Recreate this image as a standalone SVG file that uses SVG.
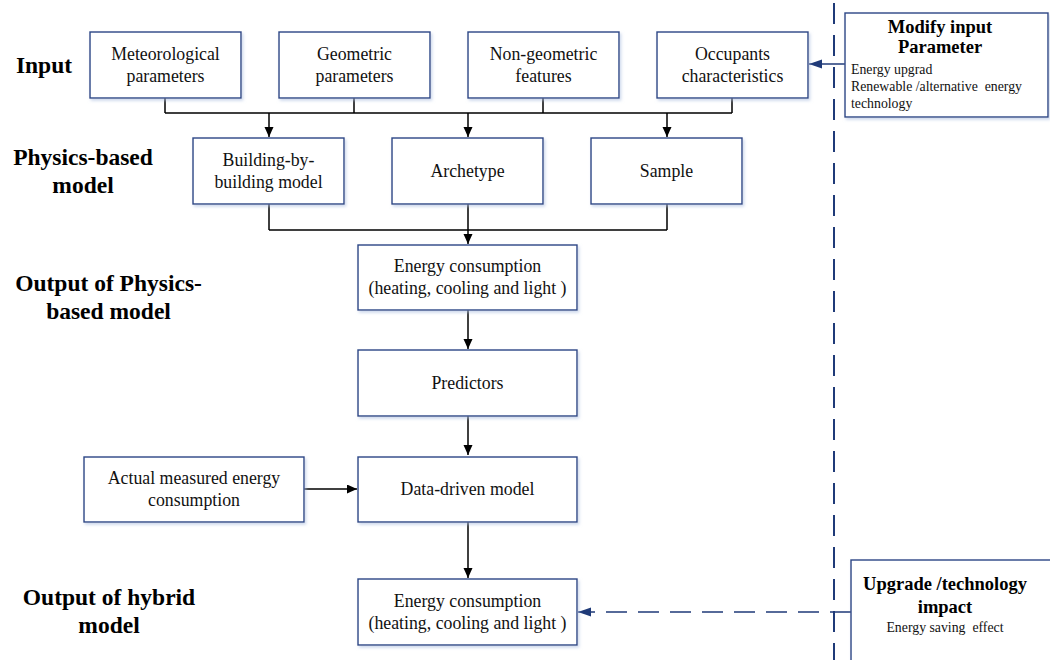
<svg xmlns="http://www.w3.org/2000/svg" width="1050" height="660" viewBox="0 0 1050 660">
<style>
.box{fill:#fff;stroke:#2a4585;stroke-width:1.4;filter:url(#sh)}
.t{font-family:"Liberation Serif","Times New Roman",serif;font-size:17.8px;fill:#111;text-anchor:middle}
.lab{font-family:"Liberation Serif","Times New Roman",serif;font-size:23.5px;font-weight:bold;fill:#000;text-anchor:middle}
.hb{font-family:"Liberation Serif","Times New Roman",serif;font-size:18.5px;font-weight:bold;fill:#000;text-anchor:middle}
.sm{font-family:"Liberation Serif","Times New Roman",serif;font-size:13.8px;fill:#111}
.ln{fill:none;stroke:#000;stroke-width:1.5}
.bl{fill:none;stroke:#1f3a78;stroke-width:1.6}
</style>
<defs>
<filter id="sh" x="-10%" y="-10%" width="120%" height="130%">
<feDropShadow dx="1.5" dy="2" stdDeviation="1.5" flood-color="#a9bde0" flood-opacity="0.6"/>
</filter>
<marker id="ab" markerWidth="11" markerHeight="10" refX="10" refY="4.5" orient="auto" markerUnits="userSpaceOnUse">
<path d="M0,0 L10,4.5 L0,9 Z" fill="#000"/>
</marker>
<marker id="an" markerWidth="14" markerHeight="10" refX="13" refY="4.5" orient="auto" markerUnits="userSpaceOnUse">
<path d="M0,0 L13,4.5 L0,9 Z" fill="#1f3a78"/>
</marker>
</defs>

<g id="labels">
<text class="lab" x="44" y="73">Input</text>
<text class="lab" x="83" y="165">Physics-based</text>
<text class="lab" x="83" y="193">model</text>
<text class="lab" x="108.5" y="291">Output of Physics-</text>
<text class="lab" x="108.5" y="319">based model</text>
<text class="lab" x="109" y="605">Output of hybrid</text>
<text class="lab" x="109" y="633">model</text>
</g>

<g id="divider">
<line x1="834" y1="3" x2="834" y2="660" stroke="#1f3a78" stroke-width="2" stroke-dasharray="21 11"/>
</g>

<g id="connectors">
<path class="ln" d="M165,98 V113 M354,98 V113 M543,98 V113 M732,98 V113 M165,113 H732"/>
<path class="ln" d="M269,113 V137" marker-end="url(#ab)"/>
<path class="ln" d="M468,113 V137" marker-end="url(#ab)"/>
<path class="ln" d="M667,113 V137" marker-end="url(#ab)"/>
<path class="ln" d="M269,204 V230 M468,204 V230 M667,204 V230 M269,230 H667"/>
<path class="ln" d="M468,230 V244" marker-end="url(#ab)"/>
<path class="ln" d="M468,310 V349" marker-end="url(#ab)"/>
<path class="ln" d="M468,416 V455" marker-end="url(#ab)"/>
<path class="ln" d="M304,489 H357" marker-end="url(#ab)"/>
<path class="ln" d="M468,522 V578" marker-end="url(#ab)"/>
<path class="bl" d="M845,64 H809" marker-end="url(#an)"/>
<path class="bl" d="M851,612 H578" stroke-dasharray="21 11" marker-end="url(#an)"/>
</g>

<g id="n-meteo">
<rect class="box" x="90" y="32" width="151" height="66"/>
<text class="t" x="165.5" y="60">Meteorological</text>
<text class="t" x="165.5" y="82">parameters</text>
</g>
<g id="n-geom">
<rect class="box" x="279" y="32" width="151" height="66"/>
<text class="t" x="354.5" y="60">Geometric</text>
<text class="t" x="354.5" y="82">parameters</text>
</g>
<g id="n-nongeom">
<rect class="box" x="468" y="32" width="151" height="66"/>
<text class="t" x="543.5" y="60">Non-geometric</text>
<text class="t" x="543.5" y="82">features</text>
</g>
<g id="n-occ">
<rect class="box" x="657" y="32" width="151" height="66"/>
<text class="t" x="732.5" y="60">Occupants</text>
<text class="t" x="732.5" y="82">characteristics</text>
</g>

<g id="n-building">
<rect class="box" x="193" y="138" width="151" height="66"/>
<text class="t" x="268.5" y="166">Building-by-</text>
<text class="t" x="268.5" y="188">building model</text>
</g>
<g id="n-archetype">
<rect class="box" x="392" y="138" width="151" height="66"/>
<text class="t" x="467.5" y="177">Archetype</text>
</g>
<g id="n-sample">
<rect class="box" x="591" y="138" width="151" height="66"/>
<text class="t" x="666.5" y="177">Sample</text>
</g>

<g id="n-energy1">
<rect class="box" x="358" y="245" width="219" height="65"/>
<text class="t" x="467.5" y="272">Energy consumption</text>
<text class="t" x="467.5" y="294">(heating, cooling and light )</text>
</g>
<g id="n-predictors">
<rect class="box" x="358" y="350" width="219" height="66"/>
<text class="t" x="467.5" y="389">Predictors</text>
</g>
<g id="n-actual">
<rect class="box" x="84" y="457" width="220" height="65"/>
<text class="t" x="194" y="484">Actual measured energy</text>
<text class="t" x="194" y="506">consumption</text>
</g>
<g id="n-datadriven">
<rect class="box" x="358" y="457" width="219" height="65"/>
<text class="t" x="467.5" y="495">Data-driven model</text>
</g>
<g id="n-energy2">
<rect class="box" x="358" y="579" width="219" height="66"/>
<text class="t" x="467.5" y="607">Energy consumption</text>
<text class="t" x="467.5" y="629">(heating, cooling and light )</text>
</g>

<g id="n-modify">
<rect class="box" x="845" y="13" width="203" height="104"/>
<text class="hb" x="940" y="33">Modify input</text>
<text class="hb" x="940" y="53">Parameter</text>
<text class="sm" x="851" y="74">Energy upgrad</text>
<text class="sm" x="851" y="91" xml:space="preserve">Renewable /alternative  energy</text>
<text class="sm" x="851" y="108">technology</text>
</g>
<g id="n-upgrade">
<rect class="box" x="851" y="560" width="210" height="110"/>
<text class="hb" x="945" y="590">Upgrade /technology</text>
<text class="hb" x="945" y="613">impact</text>
<text class="sm" x="945" y="632" text-anchor="middle" xml:space="preserve">Energy saving  effect</text>
</g>
</svg>
